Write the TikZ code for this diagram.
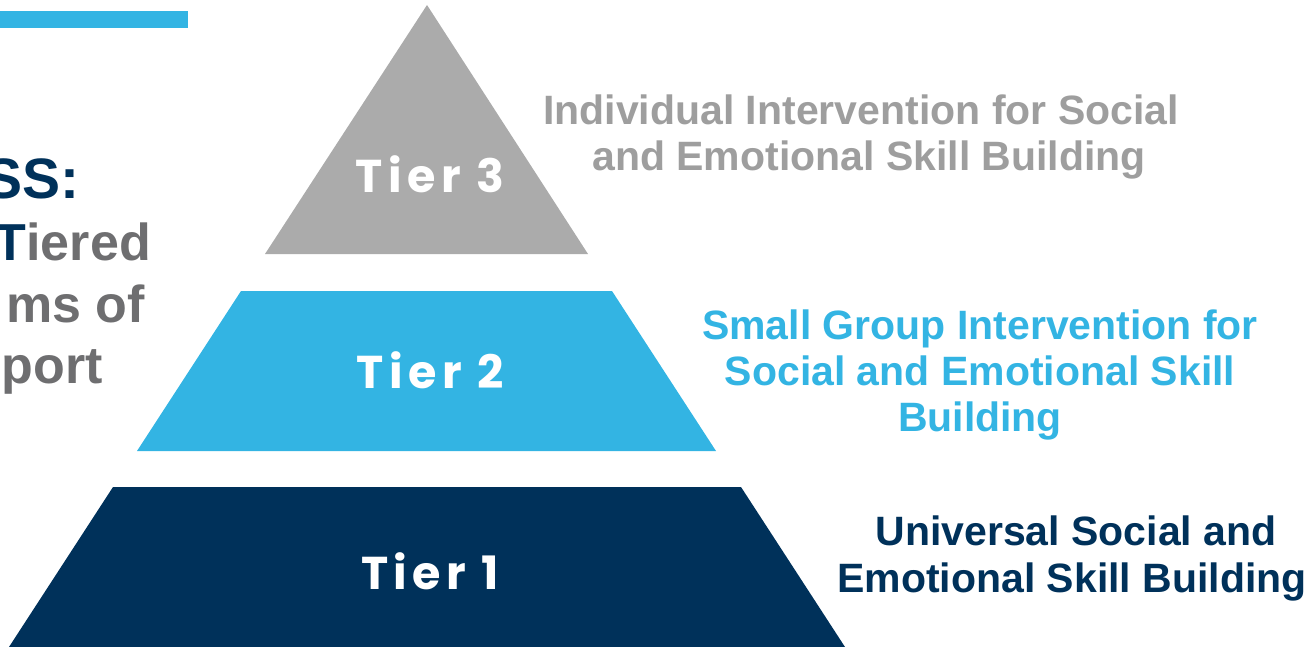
\documentclass[tikz,border=0pt]{standalone}
\usepackage{fontspec}
\setmainfont{Liberation Sans}
\newfontfamily\tierfont[LetterSpace=12]{Poppins}
\definecolor{navy}{HTML}{00315A}
\definecolor{skyblue}{HTML}{33B4E3}
\definecolor{tiergray}{HTML}{ABABAB}
\definecolor{textgray}{HTML}{9E9E9E}
\definecolor{leftgray}{HTML}{6E6E70}
\tikzset{
  tierlabel/.style={text=white, font=\tierfont\bfseries\fontsize{46}{50}\selectfont, inner sep=0pt},
  desc/.style={font=\bfseries\fontsize{41}{46}\selectfont, inner sep=0pt, anchor=base},
  lefttext/.style={font=\bfseries\fontsize{52}{62}\selectfont, inner sep=0pt, anchor=base east, text=leftgray}
}
\begin{document}
\begin{tikzpicture}[x=1pt,y=-1pt]
\useasboundingbox (0,0) rectangle (1313,647);
\clip (0,0) rectangle (1313,647);
% top bar
\fill[skyblue] (0,11) rectangle (188,28);
% pyramid
\fill[tiergray] (427,5) -- (588,254) -- (265,254) -- cycle;
\fill[skyblue] (241,291) -- (612,291) -- (716,451) -- (137,451) -- cycle;
\fill[navy] (113,487) -- (741,487) -- (845,647) -- (9,647) -- cycle;
\node[tierlabel] (t3) at (430,174) {Tier 3};
\node[tierlabel] (t2) at (430,370) {Tier 2};
\node[tierlabel] (t1) at (430,571) {Tier 1};
% left title (cut off at the page edge, as in the reference)
\node[lefttext, text=navy, font=\bfseries\fontsize{57}{62}\selectfont] (l1) at (80,198) {SS:};
\node[lefttext] (l2) at (151,260) {\textcolor{navy}{T}iered};
\node[lefttext] (l3) at (145,322) {ms of};
\node[lefttext] (l4) at (103,383) {port};
% descriptions
\node[desc, text=textgray] (d3a) at (861,125) {Individual Intervention for Social};
\node[desc, text=textgray] (d3b) at (869,171) {and Emotional Skill Building};
\node[desc, text=skyblue] (d2a) at (980,339) {Small Group Intervention for};
\node[desc, text=skyblue] (d2b) at (980,385) {Social and Emotional Skill};
\node[desc, text=skyblue] (d2c) at (980,431) {Building};
\node[desc, text=navy] (d1a) at (1076,545) {Universal Social and};
\node[desc, text=navy] (d1b) at (1072,592) {Emotional Skill Building};
\end{tikzpicture}
\end{document}
